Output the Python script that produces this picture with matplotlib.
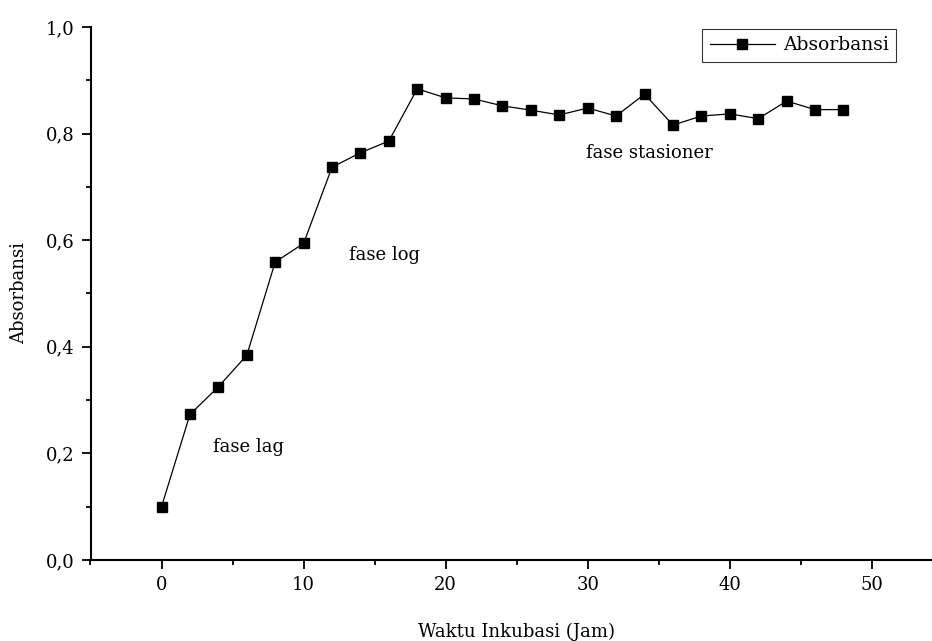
import matplotlib
matplotlib.use("Agg")
import matplotlib.pyplot as plt
from matplotlib.ticker import MultipleLocator, FuncFormatter

hours = [0, 2, 4, 6, 8, 10, 12, 14, 16, 18, 20, 22, 24, 26, 28, 30, 32, 34, 36, 38, 40, 42, 44, 46, 48]
absorbansi = [0.100, 0.273, 0.325, 0.384, 0.559, 0.594, 0.737, 0.764, 0.786, 0.884, 0.867, 0.865,
              0.852, 0.844, 0.835, 0.848, 0.833, 0.874, 0.816, 0.833, 0.837, 0.828, 0.861, 0.845, 0.845]

phase_labels = ["fase lag", "fase log", "fase stasioner"]
phase_x = [3.6, 13.2, 29.9]
phase_y = [0.212, 0.572, 0.764]

plt.rcParams['font.family'] = ['DejaVu Serif']

fig = plt.figure(figsize=(9.32, 6.41), dpi=100)
ax = fig.add_axes([90.5/932, 1-560/641, 852.4/932, 533/641])

ax.plot(hours, absorbansi, color='black', lw=0.9, marker='s', markersize=7.5,
        markerfacecolor='black', markeredgecolor='black', label='Absorbansi')

ax.set_xlim(-5, 55)
ax.set_ylim(0, 1.0)
ax.xaxis.set_major_locator(MultipleLocator(10))
ax.xaxis.set_minor_locator(MultipleLocator(5))
ax.yaxis.set_major_locator(MultipleLocator(0.2))
ax.yaxis.set_minor_locator(MultipleLocator(0.1))
ax.yaxis.set_major_formatter(FuncFormatter(lambda v, p: f"{v:.1f}".replace('.', ',')))

for s in ['top', 'right']:
    ax.spines[s].set_visible(False)
for s in ['left', 'bottom']:
    ax.spines[s].set_linewidth(1.5)

ax.tick_params(which='major', direction='out', length=6.5, width=1.3, labelsize=13)
ax.tick_params(which='minor', direction='out', length=3.5, width=1.3)
ax.tick_params(axis='x', pad=5)
ax.tick_params(axis='y', pad=5)

ax.set_xlabel('Waktu Inkubasi (Jam)', fontsize=13, labelpad=21)
ax.set_ylabel('Absorbansi', fontsize=13, labelpad=13)

for t, x, y in zip(phase_labels, phase_x, phase_y):
    ax.text(x, y, t, fontsize=13, ha='left', va='center')

leg = fig.legend(loc='upper right', bbox_to_anchor=(896/932, 1-29/641), fontsize=13.5,
                 frameon=True, fancybox=False, edgecolor='black', handlelength=3.5,
                 borderpad=0.4, handletextpad=0.4, borderaxespad=0)
leg.get_frame().set_linewidth(0.8)

fig.savefig('out.png', dpi=100)
